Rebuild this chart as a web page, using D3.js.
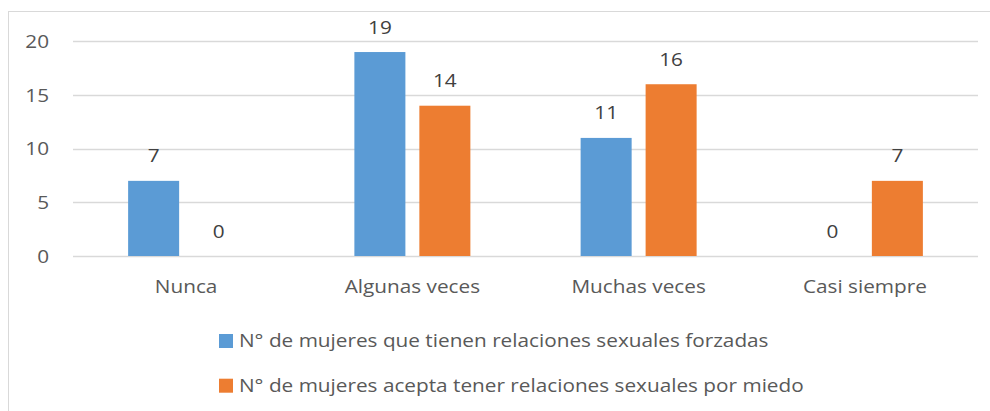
<!DOCTYPE html>
<html>
<head>
<meta charset="utf-8">
<script src="https://cdn.jsdelivr.net/npm/d3@7"></script>
<style>
  body { margin: 0; background: #fff; }
  text { font-family: "Open Sans", sans-serif; fill: #595959; }
</style>
</head>
<body>
<div id="chart"></div>
<script>
// data
const categories = ["Nunca", "Algunas veces", "Muchas veces", "Casi siempre"];
const seriesNames = [
  "N° de mujeres que tienen relaciones sexuales forzadas",
  "N° de mujeres acepta tener relaciones sexuales por miedo"
];
const forzadas = [7, 19, 11, 0];
const porMiedo = [0, 14, 16, 7];
const yTicks = [0, 5, 10, 15, 20];
const colors = ["#5B9BD5", "#ED7D31"];

const width = 990, height = 411;
const plot = { left: 73, right: 978, top: 41.3, bottom: 256 };
const fs = "18.7px";
const sx = 1.11; // the reference text is a bit wider than the font

const at = (x, y) => `translate(${x},${y}) scale(${sx},1)`;

const svg = d3.select("#chart").append("svg")
  .attr("width", width)
  .attr("height", height);

// chart frame
svg.append("rect")
  .attr("x", 8.5).attr("y", 11.5)
  .attr("width", 1000).attr("height", 500)
  .attr("fill", "none").attr("stroke", "#D9D9D9");

const x0 = d3.scaleBand().domain(categories).range([plot.left, plot.right]);
const x1 = d3.scaleBand().domain([0, 1])
  .range([x0.bandwidth() / 2 - 58, x0.bandwidth() / 2 + 58])
  .paddingInner(0.215);
const y = d3.scaleLinear().domain([0, 20]).range([plot.bottom, plot.top]);

// gridlines
svg.selectAll(".grid")
  .data(yTicks)
  .enter().append("line")
  .attr("x1", plot.left).attr("x2", plot.right)
  .attr("y1", d => Math.round(y(d)) + 0.5)
  .attr("y2", d => Math.round(y(d)) + 0.5)
  .attr("stroke", "#D9D9D9").attr("stroke-width", 1.5);

// y labels
svg.selectAll(".ylab")
  .data(yTicks)
  .enter().append("text")
  .attr("transform", d => at(49, y(d)))
  .attr("dy", "0.35em")
  .attr("text-anchor", "end")
  .attr("font-size", fs)
  .text(d => d);

// x labels
svg.selectAll(".xlab")
  .data(categories)
  .enter().append("text")
  .attr("transform", d => at(x0(d) + x0.bandwidth() / 2, 293))
  .attr("text-anchor", "middle")
  .attr("font-size", fs)
  .text(d => d);

const series = [forzadas, porMiedo];
const groups = svg.selectAll(".cat")
  .data(categories)
  .enter().append("g")
  .attr("transform", d => `translate(${x0(d)},0)`);

groups.selectAll("rect")
  .data((d, i) => series.map((s, k) => ({ k, v: s[i] })))
  .enter().append("rect")
  .attr("x", d => x1(d.k))
  .attr("width", x1.bandwidth())
  .attr("y", d => y(d.v))
  .attr("height", d => y(0) - y(d.v))
  .attr("fill", d => colors[d.k]);

groups.selectAll(".val")
  .data((d, i) => series.map((s, k) => ({ k, v: s[i] })))
  .enter().append("text")
  .attr("transform", d => at(x1(d.k) + x1.bandwidth() / 2, y(d.v) - 25))
  .attr("dy", "0.35em")
  .attr("text-anchor", "middle")
  .attr("font-size", fs)
  .style("fill", "#404040")
  .text(d => d.v);

// legend
const legend = svg.selectAll(".leg")
  .data(seriesNames)
  .enter().append("g")
  .attr("transform", (d, i) => `translate(219,${334 + i * 44.7})`);

legend.append("rect")
  .attr("width", 14).attr("height", 14)
  .attr("fill", (d, i) => colors[i]);

legend.append("text")
  .attr("transform", at(20, 13))
  .attr("font-size", fs)
  .text(d => d);
</script>
</body>
</html>
